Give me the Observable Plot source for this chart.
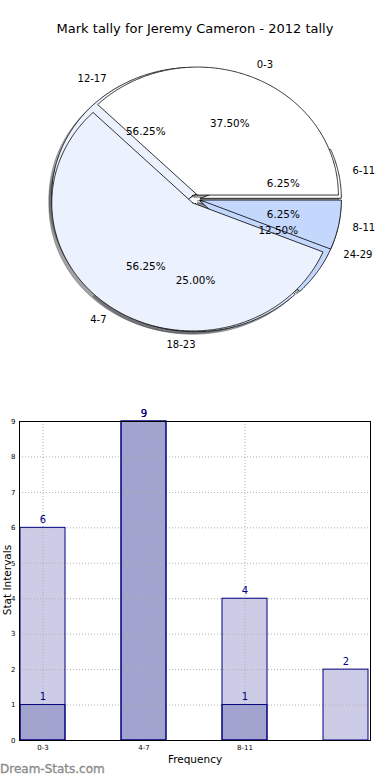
<!DOCTYPE html>
<html>
<head>
<meta charset="utf-8">
<script src="https://cdn.jsdelivr.net/npm/d3@7"></script>
<script src="https://cdn.jsdelivr.net/npm/@observablehq/plot@0.6"></script>
<style>
  html, body { margin: 0; padding: 0; background: #fff; }
  #page { position: relative; width: 390px; height: 780px; overflow: hidden; font-family: "DejaVu Sans", sans-serif; }
  .abs { position: absolute; white-space: nowrap; }
  svg { overflow: visible; }
</style>
</head>
<body>
<div id="page"></div>
<script>
// ---------- data ----------
const title = "Mark tally for Jeremy Cameron - 2012 tally";

const pie1Labels = ["0-3", "4-7", "8-11"];
const pie1Values = [6, 9, 1];
const pie1Colors = ["#ffffff", "#ebf1fd", "#c4d8fe"];

const pie2Labels = ["6-11", "12-17", "18-23", "24-29"];
const pie2Values = [1, 9, 4, 2];
const pie2Colors = ["#ffffff", "#ebf1fd", "#dbe6fd", "#c4d8fe"];

const barCategories = ["0-3", "4-7", "8-11", "12-15"];
const barTickLabels = ["0-3", "4-7", "8-11"];
const lightValues = [6, 9, 4, 2];
const darkValues = [1, 9, 1, 0];
const yTicks = [0, 1, 2, 3, 4, 5, 6, 7, 8, 9];

// ---------- layout ----------
const page = document.getElementById("page");
const W = 390;
const PIE_H = 370, CX = 195, CY = 198.7, RX = 141, RY = 128;
const EXPLODE = 0.035, SHADOW = 0.02;

function addText(txt, css) {
  const d = document.createElement("div");
  d.className = "abs";
  d.textContent = txt;
  Object.assign(d.style, css);
  page.appendChild(d);
  return d;
}

addText(title, {left: "0px", width: W + "px", textAlign: "center", top: "21px", fontSize: "13px", color: "#000"});

// ---------- pie geometry from values ----------
function wedges(labels, values, colors) {
  const total = d3.sum(values);
  let a = 0;
  return values.map((v, i) => {
    const t1 = a, t2 = a + 360 * v / total;
    a = t2;
    const mid = (t1 + t2) / 2 * Math.PI / 180;
    const ox = EXPLODE * Math.cos(mid), oy = EXPLODE * Math.sin(mid);
    const n = Math.max(2, Math.ceil((t2 - t1) / 0.5));
    const pts = [{x: ox, y: oy}];
    for (let k = 0; k <= n; k++) {
      const t = (t1 + (t2 - t1) * k / n) * Math.PI / 180;
      pts.push({x: ox + Math.cos(t), y: oy + Math.sin(t)});
    }
    pts.push({x: ox, y: oy});
    return {
      label: labels[i], pct: (100 * v / total).toFixed(2) + "%", color: colors[i], pts,
      lx: ox + 1.1 * Math.cos(mid), ly: oy + 1.1 * Math.sin(mid),
      px: ox + 0.6 * Math.cos(mid), py: oy + 0.6 * Math.sin(mid),
      right: Math.cos(mid) > 0
    };
  });
}
function shade(c) {
  const r = d3.rgb(c);
  return d3.rgb(r.r * 0.3, r.g * 0.3, r.b * 0.3).formatHex();
}

const w1 = wedges(pie1Labels, pie1Values, pie1Colors);
const w2 = wedges(pie2Labels, pie2Values, pie2Colors);
const all = [...w2, ...w1];

const pieMarks = [];
for (const w of all) {
  pieMarks.push(Plot.line(w.pts.map(p => ({x: p.x - SHADOW, y: p.y - SHADOW})), {
    x: "x", y: "y", fill: shade(w.color), fillOpacity: 0.5, stroke: shade(w.color), strokeOpacity: 0.5, strokeWidth: 0.8
  }));
}
for (const w of all) {
  pieMarks.push(Plot.line(w.pts, {x: "x", y: "y", fill: w.color, stroke: "#000", strokeWidth: 0.8}));
}
const txtStyle = {fontSize: 10, fill: "#000", fontFamily: "DejaVu Sans"};
pieMarks.push(Plot.text(all.filter(d => d.right), {x: "lx", y: "ly", text: "label", textAnchor: "start", ...txtStyle}));
pieMarks.push(Plot.text(all.filter(d => !d.right), {x: "lx", y: "ly", text: "label", textAnchor: "end", ...txtStyle}));
pieMarks.push(Plot.text(all, {x: "px", y: "py", text: "pct", textAnchor: "middle", ...txtStyle, fontSize: 10.4}));

const pie = Plot.plot({
  width: W, height: PIE_H, margin: 0,
  x: {domain: [-CX / RX, (W - CX) / RX], range: [0, W], axis: null},
  y: {domain: [-(PIE_H - CY) / RY, CY / RY], range: [PIE_H, 0], axis: null},
  marks: pieMarks
});
const pieBox = document.createElement("div");
pieBox.className = "abs";
pieBox.style.left = "0px"; pieBox.style.top = "0px";
pieBox.appendChild(pie);
page.appendChild(pieBox);

// ---------- bar chart ----------
const light = barCategories.map((c, i) => ({cat: c, v: lightValues[i]}));
const dark = barCategories.map((c, i) => ({cat: c, v: darkValues[i]})).filter(d => d.v > 0);
const navy = "#000080";
const gridStyle = {stroke: "#b0b0b0", strokeOpacity: 1, strokeDasharray: "1,2", strokeWidth: 1};

const bars = Plot.plot({
  width: W, height: 380,
  marginLeft: 19, marginRight: 20, marginTop: 21, marginBottom: 40,
  style: {fontFamily: "DejaVu Sans", background: "transparent"},
  x: {type: "band", domain: barCategories, paddingInner: 0.55, paddingOuter: 0, align: 0.5},
  y: {domain: [0, 9]},
  marks: [
    Plot.barY(light, {x: "cat", y: "v", fill: "#ccccE6"}),
    Plot.barY(dark, {x: "cat", y: "v", fill: "#a3a3d0"}),
    Plot.gridY(yTicks.slice(1, -1), gridStyle),
    Plot.gridX(barTickLabels, gridStyle),
    Plot.barY(light, {x: "cat", y: "v", fill: "none", stroke: navy, strokeWidth: 1}),
    Plot.barY(dark, {x: "cat", y: "v", fill: "none", stroke: navy, strokeWidth: 1}),
    Plot.text(light, {x: "cat", y: "v", text: d => String(d.v), dy: -8, fill: navy, fontSize: 10}),
    Plot.text(dark, {x: "cat", y: "v", text: d => String(d.v), dy: -8, fill: navy, fontSize: 10}),
    Plot.frame({stroke: "#000", strokeWidth: 1}),
    Plot.axisY(yTicks, {tickSize: 0, tickPadding: 4, fontSize: 7, label: null}),
    Plot.axisX(barTickLabels, {tickSize: 0, tickPadding: 5, fontSize: 7, label: null})
  ]
});
const barBox = document.createElement("div");
barBox.className = "abs";
barBox.style.left = "0px"; barBox.style.top = "400px";
barBox.appendChild(bars);
page.appendChild(barBox);

addText("Frequency", {left: "0px", width: W + "px", textAlign: "center", top: "753px", fontSize: "10.5px", color: "#000"});
addText("Stat Intervals", {left: "7px", top: "580px", fontSize: "10.5px", color: "#000",
  transform: "translate(-50%, -50%) rotate(-90deg)"});
addText("Dream-Stats.com", {left: "0px", top: "762px", fontSize: "12px", color: "#8c8c8c", webkitTextStroke: "0.35px #8c8c8c"});
</script>
</body>
</html>
